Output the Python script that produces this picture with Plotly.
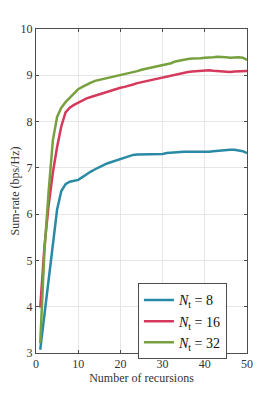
import plotly.graph_objects as go

recursions = list(range(1, 51))

rate_nt8 = [3.07, 3.85, 4.65, 5.40, 6.10, 6.50, 6.65, 6.70, 6.72, 6.74,
            6.80, 6.87, 6.92, 6.97, 7.02, 7.06, 7.10, 7.13, 7.17, 7.20,
            7.23, 7.26, 7.28, 7.29, 7.29, 7.29, 7.29, 7.29, 7.30, 7.30,
            7.32, 7.33, 7.34, 7.35, 7.35, 7.35, 7.35, 7.34, 7.34, 7.34,
            7.35, 7.36, 7.37, 7.38, 7.39, 7.39, 7.39, 7.38, 7.36, 7.32]

rate_nt16 = [3.98, 5.30, 6.20, 6.90, 7.45, 7.90, 8.20, 8.30, 8.36, 8.41,
             8.45, 8.50, 8.53, 8.56, 8.58, 8.61, 8.64, 8.68, 8.71, 8.73,
             8.75, 8.77, 8.80, 8.83, 8.85, 8.87, 8.89, 8.91, 8.93, 8.95,
             8.97, 8.99, 9.02, 9.04, 9.05, 9.07, 9.08, 9.09, 9.10, 9.11,
             9.11, 9.10, 9.09, 9.08, 9.07, 9.07, 9.08, 9.08, 9.09, 9.09]

rate_nt32 = [3.21, 5.20, 6.50, 7.60, 8.10, 8.30, 8.42, 8.52, 8.62, 8.70,
             8.75, 8.80, 8.84, 8.88, 8.90, 8.93, 8.95, 8.97, 8.99, 9.01,
             9.02, 9.04, 9.06, 9.09, 9.12, 9.14, 9.16, 9.18, 9.20, 9.22,
             9.24, 9.26, 9.30, 9.32, 9.33, 9.35, 9.36, 9.36, 9.37, 9.38,
             9.38, 9.39, 9.40, 9.40, 9.39, 9.38, 9.39, 9.39, 9.38, 9.33]

series_names = ["<i>N</i><sub>t</sub> = 8", "<i>N</i><sub>t</sub> = 16", "<i>N</i><sub>t</sub> = 32"]
series_colors = ["#2a8aa6", "#d5395c", "#77a03f"]

x_ticks = [0, 10, 20, 30, 40, 50]
y_ticks = [3, 4, 5, 6, 7, 8, 9, 10]

fig = go.Figure()
for vals, name, col in zip([rate_nt8, rate_nt16, rate_nt32], series_names, series_colors):
    fig.add_trace(go.Scatter(x=recursions, y=vals, mode="lines", name=name,
                             line=dict(color=col, width=2.5)))

serif = "Liberation Serif"
axis_common = dict(showline=True, linecolor="#4d4d4d", linewidth=1, mirror="ticks",
                   ticks="inside", ticklen=3, tickcolor="#4d4d4d",
                   showgrid=True, gridcolor="#e6e6e6", gridwidth=1, zeroline=False,
                   automargin=False,
                   tickfont=dict(family=serif, size=12, color="#333333"))

# the page body has an 8px default margin, so the figure is sized to fit the window
fig.update_layout(
    width=266, height=388,
    margin=dict(l=28, r=27, t=21, b=43, autoexpand=False),
    plot_bgcolor="white", paper_bgcolor="white",
    font=dict(family=serif, color="#333333"),
    xaxis=dict(range=[0, 50], tickvals=x_ticks,
               title=dict(text="Number of recursions", font=dict(family=serif, size=12, color="#333333"), standoff=2),
               **axis_common),
    yaxis=dict(range=[3, 10], tickvals=y_ticks,
               title=dict(text="Sum-rate (bps/Hz)", font=dict(family=serif, size=12, color="#333333"), standoff=4),
               **axis_common),
    legend=dict(x=0.483, y=0.215, xanchor="left", yanchor="top",
                bgcolor="white", bordercolor="#4d4d4d", borderwidth=1,
                font=dict(family=serif, size=14, color="#111111"),
                tracegroupgap=0, itemwidth=30),
    showlegend=True,
)

fig.write_html("out.html")
